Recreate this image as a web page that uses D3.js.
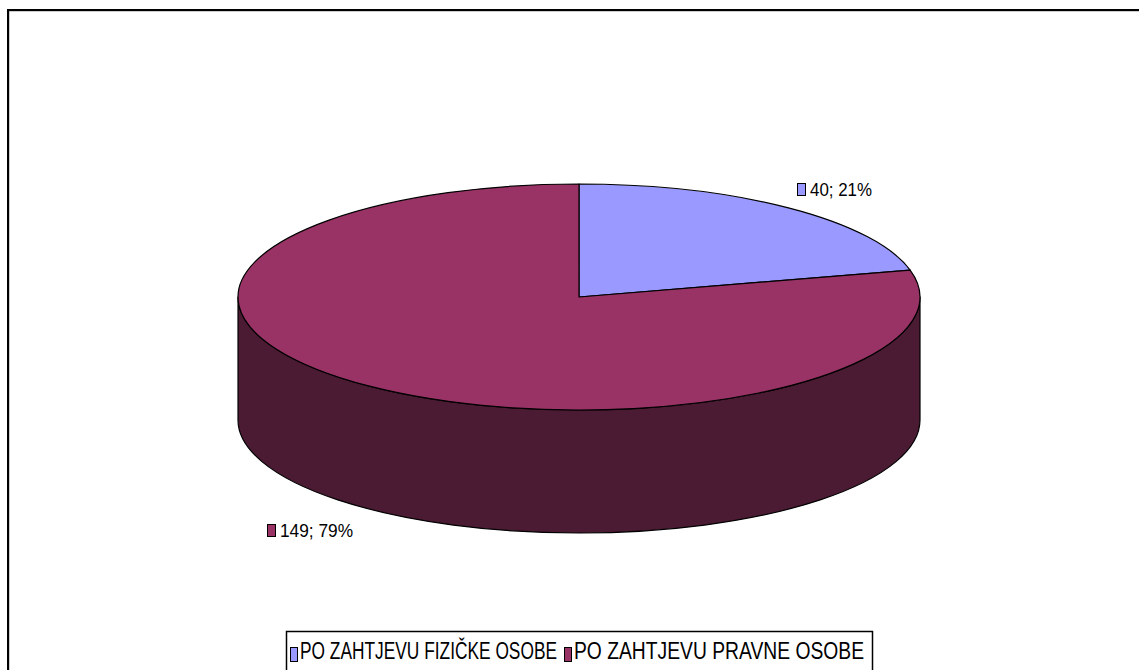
<!DOCTYPE html>
<html>
  <head>
    <meta charset="utf-8">
    <script src="https://d3js.org/d3.v7.min.js"></script>
    <style>
      body { margin: 0; background: #fff; }
      text { font-family: "Liberation Sans Narrow", "Liberation Sans", Arial, sans-serif; fill: #000; }
    </style>
  </head>
  <body>
    <svg width="1139" height="670"></svg>
    <script>
      // chart data
      const categories = ['PO ZAHTJEVU FIZIČKE OSOBE', 'PO ZAHTJEVU PRAVNE OSOBE'];
      const counts = [40, 149];
      const percents = ['21%', '79%'];
      const topColors = ['#9999FF', '#993366'];
      const sideColors = ['#4C4C80', '#4B1A33'];

      const svg = d3.select('svg');

      // outer frame
      svg.append('rect')
        .attr('x', 9).attr('y', 11)
        .attr('width', 1200).attr('height', 800)
        .attr('fill', 'none').attr('stroke', '#999').attr('stroke-width', 1);
      svg.append('rect')
        .attr('x', 8).attr('y', 10)
        .attr('width', 1200).attr('height', 800)
        .attr('fill', 'none').attr('stroke', '#000').attr('stroke-width', 2);

      // 3d pie geometry
      const cx = 579, cy = 297, rx = 341, ry = 113, depth = 123;
      const pie = d3.pie().sort(null).value(d => d)
        .startAngle(0).endAngle(2 * Math.PI);
      const arcs = pie(counts);

      const pt = (a, dy) => [cx + rx * Math.sin(a), cy - ry * Math.cos(a) + dy];

      const g = svg.append('g');

      // front walls (only the part facing the viewer)
      arcs.forEach((d, i) => {
        const s = Math.max(d.startAngle, Math.PI / 2);
        const e = Math.min(d.endAngle, 3 * Math.PI / 2);
        if (s >= e) return;
        const t0 = pt(s, 0), t1 = pt(e, 0), b1 = pt(e, depth), b0 = pt(s, depth);
        const large = e - s > Math.PI ? 1 : 0;
        g.append('path')
          .attr('d', `M${t0}A${rx},${ry} 0 ${large} 1 ${t1}L${b1}A${rx},${ry} 0 ${large} 0 ${b0}Z`)
          .attr('fill', sideColors[i])
          .attr('stroke', '#000').attr('stroke-width', 1.2)
          .attr('stroke-linejoin', 'round');
      });

      // top faces
      arcs.forEach((d, i) => {
        const t0 = pt(d.startAngle, 0), t1 = pt(d.endAngle, 0);
        const large = d.endAngle - d.startAngle > Math.PI ? 1 : 0;
        g.append('path')
          .attr('d', `M${cx},${cy}L${t0}A${rx},${ry} 0 ${large} 1 ${t1}Z`)
          .attr('fill', topColors[i])
          .attr('stroke', '#000').attr('stroke-width', 1.2)
          .attr('stroke-linejoin', 'round');
      });

      // data labels
      const labelPos = [[797, 196], [267, 537]];
      const labelLen = [62, 73];
      arcs.forEach((d, i) => {
        const [lx, ly] = labelPos[i];
        svg.append('rect')
          .attr('x', lx + 0.5).attr('y', ly - 12.5)
          .attr('width', 8).attr('height', 12)
          .attr('fill', topColors[i]).attr('stroke', '#000').attr('stroke-width', 1);
        svg.append('text')
          .attr('x', lx + 13).attr('y', ly)
          .attr('font-size', 18)
          .attr('textLength', labelLen[i]).attr('lengthAdjust', 'spacingAndGlyphs')
          .text(`${counts[i]}; ${percents[i]}`);
      });

      // legend
      const legend = svg.append('g');
      legend.append('rect')
        .attr('x', 286.5).attr('y', 631.5)
        .attr('width', 586).attr('height', 60)
        .attr('fill', '#fff').attr('stroke', '#000').attr('stroke-width', 1.5);
      const legX = [290, 564];
      const legLen = [257, 290];
      categories.forEach((c, i) => {
        legend.append('rect')
          .attr('x', legX[i] + 0.5).attr('y', 647.5)
          .attr('width', 7).attr('height', 14)
          .attr('fill', topColors[i]).attr('stroke', '#000').attr('stroke-width', 1);
        // tall, narrow lettering: small font stretched vertically
        legend.append('text')
          .attr('transform', `translate(${legX[i] + 10},659) scale(1,1.55)`)
          .attr('font-size', 16)
          .attr('textLength', legLen[i]).attr('lengthAdjust', 'spacingAndGlyphs')
          .text(c);
      });
    </script>
  </body>
</html>
